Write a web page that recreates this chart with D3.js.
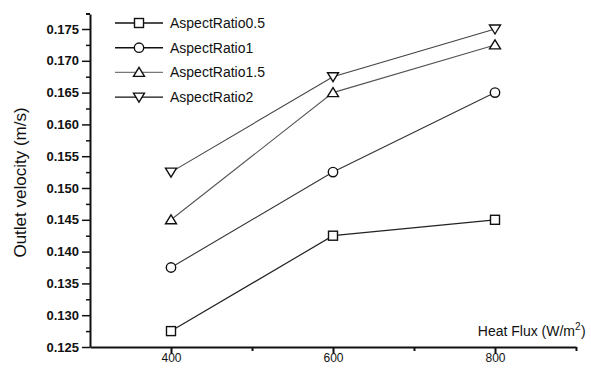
<!DOCTYPE html>
<html>
<head>
<meta charset="utf-8">
<script src="https://cdn.jsdelivr.net/npm/d3@7"></script>
<style>
  body { margin: 0; background: #fff; overflow: hidden; }
  text { font-family: "Liberation Sans", Arial, sans-serif; fill: #111; }
</style>
</head>
<body>
<script>
// chart data
const heatFlux = [400, 600, 800];
const seriesNames = ["AspectRatio0.5", "AspectRatio1", "AspectRatio1.5", "AspectRatio2"];
const ar05 = [0.1275, 0.1425, 0.145];
const ar1 = [0.1375, 0.1525, 0.165];
const ar15 = [0.145, 0.165, 0.1725];
const ar2 = [0.1525, 0.1675, 0.175];
const yTicks = [0.125, 0.130, 0.135, 0.140, 0.145, 0.150, 0.155, 0.160, 0.165, 0.170, 0.175];
const xTicks = [400, 600, 800];

const w = 591, h = 370;
const margin = { top: 14, right: 15, bottom: 23, left: 90 };
const innerWidth = w - margin.left - margin.right;
const innerHeight = h - margin.top - margin.bottom;

const series = [
    { name: seriesNames[0], values: ar05, symbol: 'square', color: '#222', width: 1.2 },
    { name: seriesNames[1], values: ar1, symbol: 'circle', color: '#333', width: 1.1 },
    { name: seriesNames[2], values: ar15, symbol: 'up', color: '#555', width: 1.1 },
    { name: seriesNames[3], values: ar2, symbol: 'down', color: '#444', width: 1.1 }
];

const svg = d3.select("body").append("svg")
    .attr("width", w)
    .attr("height", h);

const xScale = d3.scaleLinear().domain([300, 900]).range([0, innerWidth]);
const yScale = d3.scaleLinear().domain([0.125, 0.17736]).range([innerHeight, 0]);

const g = svg.append("g")
    .attr("transform", `translate(${margin.left},${margin.top})`);

// y axis, minor ticks first (no labels)
g.append('g')
    .call(d3.axisLeft(yScale).tickValues(d3.range(0.1275, 0.177, 0.005)).tickSize(4))
    .call(a => a.select('.domain').remove())
    .call(a => a.selectAll('text').remove())
    .selectAll('line').attr('stroke', '#111').attr('stroke-width', 1.5);

const yAxisG = g.append('g')
    .call(d3.axisLeft(yScale).tickValues(yTicks).tickSize(8).tickSizeOuter(0).tickFormat(d3.format('.3f')));
yAxisG.select('.domain').attr('stroke', '#111').attr('stroke-width', 2);
yAxisG.selectAll('.tick line').attr('stroke', '#111').attr('stroke-width', 1.5);
yAxisG.selectAll('.tick text')
    .attr('x', -11)
    .style('font-size', '13px')
    .style('font-weight', 'bold')
    .style('font-family', '"Liberation Sans", Arial, sans-serif')
    .attr('fill', '#111');
// small cap at the top of the y axis
yAxisG.append('line').attr('x1', -4).attr('x2', 0).attr('y1', 0).attr('y2', 0)
    .attr('stroke', '#111').attr('stroke-width', 2);

// x axis
g.append('g')
    .attr('transform', `translate(0, ${innerHeight})`)
    .call(d3.axisBottom(xScale).tickValues([500, 700, 900]).tickSize(4))
    .call(a => a.select('.domain').remove())
    .call(a => a.selectAll('text').remove())
    .selectAll('line').attr('stroke', '#111').attr('stroke-width', 2);

const xAxisG = g.append('g')
    .attr('transform', `translate(0, ${innerHeight})`)
    .call(d3.axisBottom(xScale).tickValues(xTicks).tickSize(6).tickSizeOuter(0));
xAxisG.select('.domain').attr('stroke', '#111').attr('stroke-width', 2);
xAxisG.selectAll('.tick line').attr('stroke', '#111').attr('stroke-width', 2);
xAxisG.selectAll('.tick text')
    .attr('y', 6)
    .style('font-size', '12px')
    .style('font-family', '"Liberation Sans", Arial, sans-serif')
    .attr('fill', '#111');

// axis labels
g.append('text')
    .attr('transform', `translate(-64, ${innerHeight / 2 + 2}) rotate(-90)`)
    .attr('text-anchor', 'middle')
    .style('font-size', '17px')
    .text('Outlet velocity (m/s)');

g.append('text')
    .attr('x', innerWidth - 1)
    .attr('y', innerHeight - 11)
    .attr('text-anchor', 'end')
    .style('font-size', '14px')
    .text('Heat Flux (W/m');
g.append('text')
    .attr('x', innerWidth - 1)
    .attr('y', innerHeight - 17)
    .style('font-size', '10px')
    .text('2');
g.append('text')
    .attr('x', innerWidth + 5)
    .attr('y', innerHeight - 11)
    .style('font-size', '14px')
    .text(')');

function drawSymbol(sel, type, color) {
    if (type === 'square') {
        sel.append('rect').attr('x', -4.5).attr('y', -4.5).attr('width', 9).attr('height', 9);
    } else if (type === 'circle') {
        sel.append('circle').attr('r', 4.7);
    } else if (type === 'up') {
        sel.append('path').attr('d', 'M0,-5 L5.5,4 L-5.5,4 Z');
    } else {
        sel.append('path').attr('d', 'M0,5 L5.5,-4 L-5.5,-4 Z');
    }
    sel.selectAll('*').attr('fill', '#fff').attr('stroke', color).attr('stroke-width', 1.4);
}

const line = d3.line()
    .x((d, i) => xScale(heatFlux[i]))
    .y(d => yScale(d));

series.forEach(s => {
    g.append('path')
        .datum(s.values)
        .attr('fill', 'none')
        .attr('stroke', s.color)
        .attr('stroke-width', s.width)
        .attr('d', line);

    s.values.forEach((v, i) => {
        const m = g.append('g')
            .attr('transform', `translate(${xScale(heatFlux[i])},${yScale(v)})`);
        drawSymbol(m, s.symbol, '#111');
    });
});

// legend
const legend = svg.append('g').attr('transform', 'translate(115, 23)');
series.forEach((s, i) => {
    const row = legend.append('g').attr('transform', `translate(0, ${i * 24.7})`);
    row.append('line')
        .attr('x1', 0).attr('x2', 48)
        .attr('stroke', i === 2 ? '#777' : '#111')
        .attr('stroke-width', 1.4);
    const m = row.append('g').attr('transform', 'translate(24, 0)');
    drawSymbol(m, s.symbol, '#111');
    row.append('text')
        .attr('x', 55)
        .attr('y', 5)
        .style('font-size', '14px')
        .text(s.name);
});
</script>
</body>
</html>
